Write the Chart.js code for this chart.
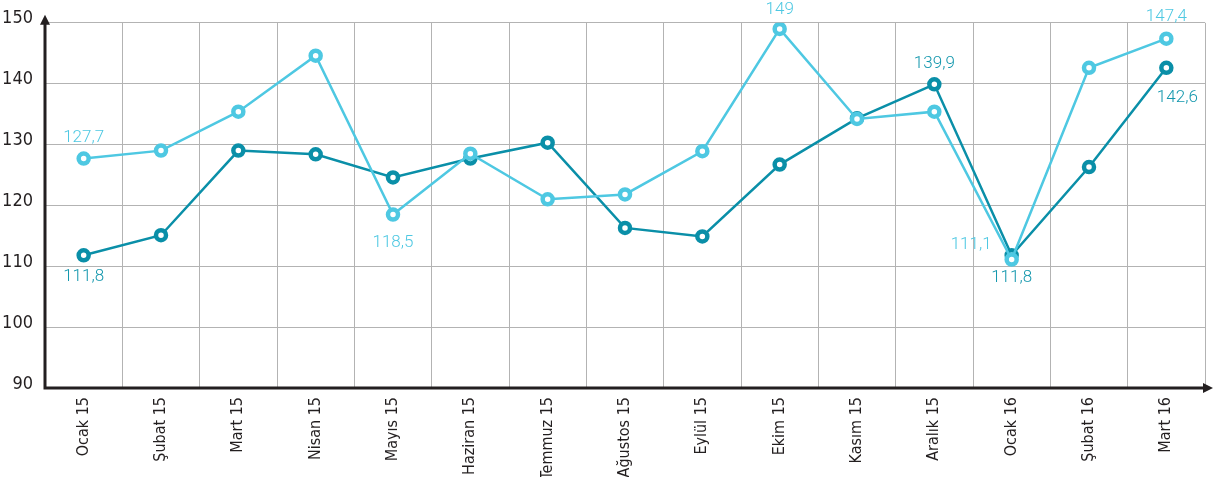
<!DOCTYPE html>
<html>
<head>
<meta charset="utf-8">
<script src="https://cdn.jsdelivr.net/npm/chart.js@4/dist/chart.umd.min.js"></script>
<style>
  html, body { margin: 0; padding: 0; background: #fff; }
  #wrap { width: 1215px; height: 477px; position: relative; }
</style>
</head>
<body>
<div id="wrap"><canvas id="c" width="1215" height="477"></canvas></div>
<script>
const categories = ["Ocak 15","Şubat 15","Mart 15","Nisan 15","Mayıs 15","Haziran 15","Temmuz 15","Ağustos 15","Eylül 15","Ekim 15","Kasım 15","Aralık 15","Ocak 16","Şubat 16","Mart 16"];
const lightSeries = [127.7, 129.0, 135.4, 144.6, 118.5, 128.5, 121.0, 121.8, 128.9, 149, 134.2, 135.4, 111.1, 142.6, 147.4];
const darkSeries  = [111.8, 115.1, 129.0, 128.4, 124.6, 127.7, 130.3, 116.3, 114.9, 126.7, 134.3, 139.9, 111.8, 126.3, 142.6];
const yTicks = [90, 100, 110, 120, 130, 140, 150];

const LIGHT = "#4ec8e2";
const DARK = "#0a8fa8";
const AXIS = "#231f20";
const NARROW = '"Liberation Sans Narrow", "DejaVu Sans Condensed", "Open Sans", sans-serif';
const LABELFONT = 'Roboto, "Noto Sans", sans-serif';

// which points get a value label, and where (styling only)
const lightLabels = [{i:0, dx:0, dy:-21, align:"center"}, {i:4, dx:0, dy:28, align:"center"}, {i:9, dx:0, dy:-19, align:"center"}, {i:12, dx:-20, dy:-15, align:"right"}, {i:14, dx:0, dy:-22, align:"center"}];
const darkLabels  = [{i:0, dx:0, dy:21, align:"center"}, {i:11, dx:0, dy:-21, align:"center"}, {i:12, dx:0, dy:22, align:"center"}, {i:14, dx:11, dy:30, align:"center"}];

const axesPlugin = {
  id: "axesArrows",
  beforeDatasetsDraw(chart) {
    const {ctx, chartArea: a} = chart;
    ctx.save();
    ctx.strokeStyle = AXIS;
    ctx.fillStyle = AXIS;
    ctx.lineWidth = 3;
    ctx.beginPath();
    ctx.moveTo(a.left, a.bottom);
    ctx.lineTo(a.left, a.top - 3);
    ctx.moveTo(a.left - 1.5, a.bottom);
    ctx.lineTo(a.right + 3, a.bottom);
    ctx.stroke();
    ctx.beginPath();
    ctx.moveTo(a.left, a.top - 8);
    ctx.lineTo(a.left - 5, a.top + 2);
    ctx.lineTo(a.left + 5, a.top + 2);
    ctx.closePath();
    ctx.fill();
    ctx.beginPath();
    ctx.moveTo(a.right + 8, a.bottom);
    ctx.lineTo(a.right - 2, a.bottom - 5);
    ctx.lineTo(a.right - 2, a.bottom + 5);
    ctx.closePath();
    ctx.fill();
    ctx.restore();
  }
};

const labelPlugin = {
  id: "valueLabels",
  afterDatasetsDraw(chart) {
    const ctx = chart.ctx;
    const sets = [[0, lightLabels, lightSeries, LIGHT], [1, darkLabels, darkSeries, "#1397ad"]];
    ctx.save();
    ctx.font = "300 17px " + LABELFONT;
    ctx.textBaseline = "middle";
    for (const [d, list, vals, col] of sets) {
      const meta = chart.getDatasetMeta(d);
      ctx.fillStyle = col;
      for (const l of list) {
        const p = meta.data[l.i];
        ctx.textAlign = l.align;
        ctx.fillText(String(vals[l.i]).replace(".", ","), p.x + l.dx, p.y + l.dy);
      }
    }
    ctx.restore();
  }
};

new Chart(document.getElementById("c"), {
  type: "line",
  data: {
    labels: categories,
    datasets: [
      { label: "A", data: lightSeries, borderColor: LIGHT, backgroundColor: "#fff", borderWidth: 2.5,
        pointRadius: 5, pointBorderWidth: 4.5, pointBackgroundColor: "#fff", pointBorderColor: LIGHT, tension: 0 },
      { label: "B", data: darkSeries, borderColor: DARK, backgroundColor: "#fff", borderWidth: 2.5,
        pointRadius: 5, pointBorderWidth: 4.5, pointBackgroundColor: "#fff", pointBorderColor: DARK, tension: 0 }
    ]
  },
  options: {
    responsive: false,
    animation: false,
    events: [],
    layout: { padding: { top: 22, right: 10, left: 0, bottom: 0 } },
    plugins: { legend: { display: false }, tooltip: { enabled: false } },
    scales: {
      x: {
        offset: true,
        grid: { offset: true, color: "#b3b3b3", lineWidth: 1, drawTicks: false, tickLength: 0 },
        border: { display: false },
        ticks: { maxRotation: 90, minRotation: 90, padding: 9, color: AXIS, font: { family: NARROW, size: 16 }, autoSkip: false },
        afterFit(s) { s.height = 89; }
      },
      y: {
        min: 90, max: 150,
        afterBuildTicks(s) { s.ticks = yTicks.map(v => ({ value: v })); },
        grid: { color: "#b3b3b3", lineWidth: 1, drawTicks: false, tickLength: 0 },
        border: { display: false },
        ticks: { padding: 12, labelOffset: -4, color: AXIS, font: { family: NARROW, size: 18 } },
        afterFit(s) { s.width = 45; }
      }
    }
  },
  plugins: [axesPlugin, labelPlugin]
});
</script>
</body>
</html>
